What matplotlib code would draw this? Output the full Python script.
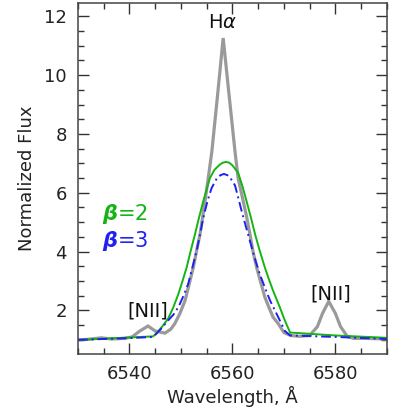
import matplotlib
matplotlib.use("Agg")
import matplotlib.pyplot as plt
from matplotlib.ticker import MultipleLocator

# Observed spectrum (gray)
obs_wave = [6530, 6532, 6534.5, 6536.5, 6539, 6540.5, 6542, 6543.6, 6545, 6546.9,
            6548, 6548.8, 6549.8, 6550.8, 6551.6, 6552.4, 6553.0, 6553.7, 6554.2,
            6554.66, 6555.3, 6556.0, 6557.1, 6558.2, 6559.3, 6560.5, 6561.1,
            6562.1, 6562.8, 6563.4, 6564.0, 6564.7, 6565.5, 6566.3, 6567.1, 6567.9,
            6568.9, 6570, 6571.3, 6573, 6575, 6576.5, 6577.5, 6578.7,
            6580, 6581, 6582.3, 6583.5, 6586, 6590]
obs_flux = [1.00, 1.02, 1.07, 1.03, 1.05, 1.10, 1.30, 1.47, 1.30, 1.23,
            1.36, 1.55, 1.90, 2.34, 2.90, 3.46, 4.00, 4.59, 5.15,
            5.71, 6.50, 7.40, 9.30, 11.26, 9.40, 7.40, 6.50,
            5.71, 5.15, 4.59, 4.00, 3.46, 2.95, 2.45, 2.10, 1.77,
            1.55, 1.25, 1.15, 1.12, 1.15, 1.45, 1.90, 2.31,
            1.90, 1.45, 1.12, 1.05, 1.05, 1.03]

# Model beta = 2 (green)
b2_wave = [6530, 6544.6, 6545.2, 6546.3, 6547.5, 6548.5, 6549.5, 6550.3, 6551.1,
           6551.9, 6552.72, 6553.5, 6554.33, 6555.0, 6555.63, 6556.5, 6557.5,
           6558.1, 6558.74, 6559.4, 6560.0, 6561.1, 6561.9, 6562.75, 6563.6,
           6564.4, 6565.3, 6566.3, 6567.1, 6567.9, 6569.2, 6570.2, 6571.2,
           6580, 6590]
b2_flux = [1.00, 1.12, 1.22, 1.44, 1.72, 2.10, 2.56, 3.00, 3.46,
           4.03, 4.59, 5.15, 5.71, 6.12, 6.50, 6.78, 6.95,
           7.02, 7.05, 7.02, 6.93, 6.68, 6.25, 5.71, 5.15,
           4.59, 4.03, 3.46, 3.05, 2.67, 2.11, 1.65, 1.25,
           1.15, 1.07]

# Model beta = 3 (blue)
b3_wave = [6530, 6540, 6544.6, 6546.0, 6547.5, 6548.5, 6549.5, 6550.5, 6551.4,
           6552.2, 6553.04, 6553.7, 6554.33, 6555.2, 6555.95, 6557.0, 6557.7,
           6558.35, 6559.0, 6559.5, 6560.5, 6561.1, 6561.8, 6562.6, 6563.4,
           6564.3, 6565.3, 6566.3, 6567.3, 6568.9, 6570.2, 6571.2, 6580, 6590]
b3_flux = [1.00, 1.06, 1.10, 1.35, 1.66, 1.85, 2.11, 2.50, 2.90,
           3.45, 4.02, 4.58, 5.15, 5.75, 6.16, 6.50, 6.60,
           6.64, 6.60, 6.53, 6.25, 5.85, 5.37, 4.86, 4.36,
           3.80, 3.24, 2.78, 2.34, 1.77, 1.30, 1.15, 1.10, 1.03]

fig = plt.figure(figsize=(4.16, 4.18), dpi=100)
ax = fig.add_axes([0.1875, 0.1531, 0.7425, 0.8397])

ax.plot(obs_wave, obs_flux, color='#9a9a9a', lw=2.3, solid_joinstyle='miter')
ax.plot(b2_wave, b2_flux, color='#14b414', lw=1.4)
ax.plot(b3_wave, b3_flux, color='#2020f0', lw=1.4, linestyle=(0, (5, 2, 1, 2)))

ax.set_xlim(6530, 6590)
ax.set_ylim(0.52, 12.45)
ax.xaxis.set_major_locator(MultipleLocator(20))
ax.xaxis.set_minor_locator(MultipleLocator(5))
ax.yaxis.set_major_locator(MultipleLocator(2))
ax.yaxis.set_minor_locator(MultipleLocator(0.5))
ax.tick_params(which='both', direction='in', top=True, right=True,
               color='#333333', width=1.0, labelsize=13, labelcolor='#222222')
ax.tick_params(which='major', length=8, pad=8)
ax.tick_params(which='minor', length=4)
for s in ax.spines.values():
    s.set_color('#444444')
    s.set_linewidth(1.1)

ax.set_xlabel('Wavelength, Å', fontsize=13, color='#222222', labelpad=2)
ax.set_ylabel('Normalized Flux', fontsize=13, color='#222222', labelpad=6)

ax.text(6558, 11.78, r'H$\alpha$', fontsize=14, ha='center', va='center', color='#111111')
ax.text(6543.6, 1.97, '[NII]', fontsize=14, ha='center', va='center', color='#111111')
ax.text(6579.0, 2.57, '[NII]', fontsize=14, ha='center', va='center', color='#111111')

ax.text(6534.6, 5.27, r'$\boldsymbol{\beta}$=2', fontsize=15, color='#14b414', va='center')
ax.text(6534.6, 4.36, r'$\boldsymbol{\beta}$=3', fontsize=15, color='#2020f0', va='center')

fig.savefig('out.png', dpi=100)
